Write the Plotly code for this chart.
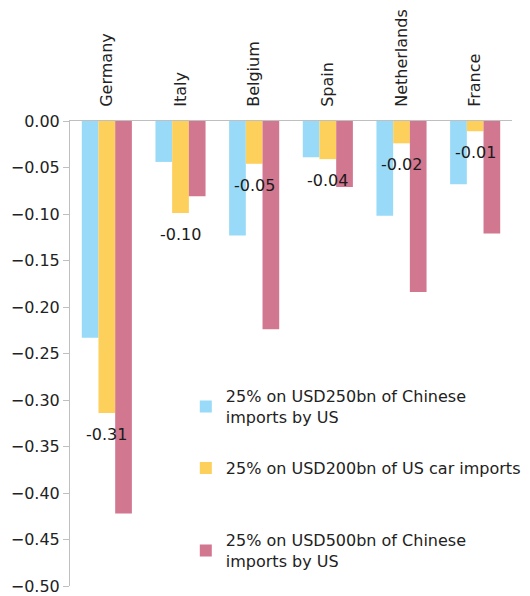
import plotly.graph_objects as go

countries = ["Germany", "Italy", "Belgium", "Spain", "Netherlands", "France"]

series_names = [
    "25% on USD250bn of Chinese<br>imports by US",
    "25% on USD200bn of US car imports",
    "25% on USD500bn of Chinese<br>imports by US",
]
china250 = [-0.233, -0.044, -0.123, -0.039, -0.102, -0.068]
cars200 = [-0.314, -0.099, -0.046, -0.041, -0.024, -0.011]
china500 = [-0.422, -0.081, -0.224, -0.071, -0.184, -0.121]

y_ticks = [0.0, -0.05, -0.10, -0.15, -0.20, -0.25, -0.30, -0.35, -0.40, -0.45, -0.50]

colors = ["#98DAF7", "#FDCF5B", "#D27790"]
FONT = "DejaVu Sans"

fig = go.Figure()
for i, (name, vals) in enumerate(zip(series_names, [china250, cars200, china500])):
    fig.add_trace(go.Bar(
        x=countries, y=vals, name=name,
        marker=dict(color=colors[i], line=dict(width=0)),
        legend="legend" if i == 0 else "legend%d" % (i + 1),
    ))

# data labels for the car-import series, a bit below the bar end
for c, v in zip(countries, cars200):
    fig.add_annotation(
        x=c, y=v, text="%.2f" % v, showarrow=False,
        yanchor="top", yshift=-10,
        font=dict(family=FONT, size=16, color="#1a1a1a"),
    )

leg = dict(font=dict(family=FONT, size=16, color="#222222"),
           bgcolor="rgba(0,0,0,0)", xanchor="left", yanchor="top",
           itemwidth=30)

# page body has an 8px margin, so the figure is a bit smaller than the window
fig.update_layout(
    width=522, height=588,
    margin=dict(l=62, r=18, t=113, b=10, autoexpand=False),
    plot_bgcolor="white", paper_bgcolor="white",
    barmode="group", bargap=0.32, bargroupgap=0,
    showlegend=True,
    font=dict(family=FONT, size=16, color="#222222"),
    legend=dict(leg, x=0.262, y=0.445),
    legend2=dict(leg, x=0.262, y=0.29),
    legend3=dict(leg, x=0.262, y=0.135),
    xaxis=dict(
        side="top", tickangle=-90, showline=True, linecolor="#BFBFBF",
        linewidth=1, ticks="", showgrid=False, ticklabelstandoff=10,
        automargin=False,
        tickfont=dict(family=FONT, size=16, color="#222222"),
    ),
    yaxis=dict(
        range=[-0.5, 0], tickvals=y_ticks, tickformat=".2f",
        showline=True, linecolor="#BFBFBF", linewidth=1,
        ticks="outside", ticklen=6, tickcolor="#BFBFBF",
        showgrid=False, zeroline=False, automargin=False,
        tickfont=dict(family=FONT, size=16, color="#222222"),
    ),
)

fig.write_html("out.html")
